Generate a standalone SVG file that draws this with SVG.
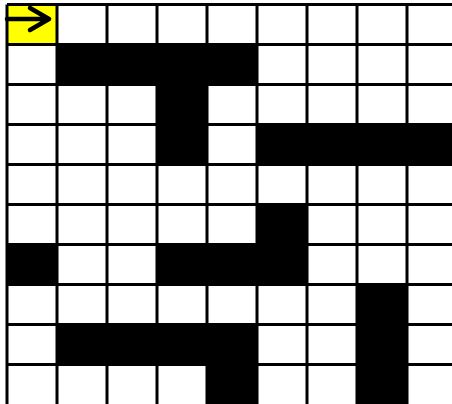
<svg xmlns="http://www.w3.org/2000/svg" width="452" height="404" viewBox="0 0 452 404">
<style>
.b{fill:#000}
.g{stroke:#000;stroke-width:3;fill:none}
.ar{stroke:#000;stroke-width:4.5;fill:none;stroke-linecap:round;stroke-linejoin:round}
</style>
<rect width="452" height="404" fill="#fff"/>
<g id="start">
<rect x="7" y="4.5" width="50" height="40" fill="#ffff00"/>
<path class="ar" d="M7 19 H49 M30 8 L49 19 L30 30"/>
</g>
<g id="walls">
<rect class="b" x="57" y="44.5" width="200" height="40"/>
<rect class="b" x="157" y="84.5" width="50" height="80"/>
<rect class="b" x="257" y="124.5" width="200" height="40"/>
<rect class="b" x="257" y="204.5" width="50" height="80"/>
<rect class="b" x="7" y="244.5" width="50" height="40"/>
<rect class="b" x="157" y="244.5" width="150" height="40"/>
<rect class="b" x="357" y="284.5" width="50" height="120"/>
<rect class="b" x="57" y="324.5" width="200" height="40"/>
<rect class="b" x="207" y="364.5" width="50" height="40"/>
</g>
<g id="grid" class="g">
<path d="M7 4.5V404.5M57 4.5V404.5M107 4.5V404.5M157 4.5V404.5M207 4.5V404.5M257 4.5V404.5M307 4.5V404.5M357 4.5V404.5M407 4.5V404.5"/>
<path d="M7 4.5H457M7 44.5H457M7 84.5H457M7 124.5H457M7 164.5H457M7 204.5H457M7 244.5H457M7 284.5H457M7 324.5H457M7 364.5H457"/>
</g>
</svg>
